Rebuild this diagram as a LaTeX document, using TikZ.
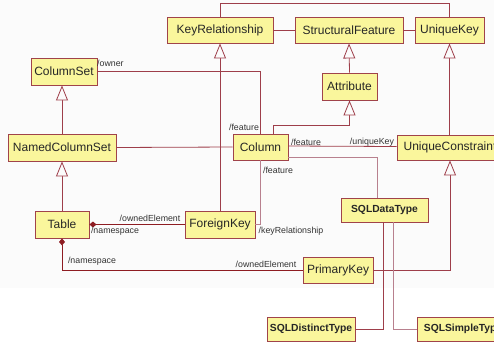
\documentclass[tikz,border=0pt]{standalone}
\usepackage{fontspec}
\setmainfont{Liberation Sans}
\usetikzlibrary{arrows.meta}

\definecolor{boxfill}{HTML}{FAF69C}
\definecolor{boxline}{HTML}{A0434A}
\definecolor{assoc}{HTML}{9E3E4A}
\definecolor{assoclight}{HTML}{B8808E}
\definecolor{owner}{HTML}{8E1C22}
\definecolor{canvas}{HTML}{FBFBFB}

\tikzset{
  cls/.style={draw=boxline, fill=boxfill, line width=0.9pt, inner sep=0pt,
    font=\fontsize{12}{14}\selectfont, text=black!85},
  sqlcls/.style={cls, font=\fontsize{10.3}{12}\selectfont\bfseries},
  gen/.style={draw=assoc, line width=0.8pt,
    -{Triangle[open, length=15pt, width=12pt, line width=0.8pt, fill=canvas]}},
  link/.style={draw=assoc, line width=0.8pt},
  linklight/.style={draw=assoclight, line width=0.8pt},
  comp/.style={draw=owner, line width=1pt,
    {Diamond[length=7pt, width=6pt, fill=owner]}-},
  role/.style={font=\fontsize{8.8}{10}\selectfont, text=black!80, inner sep=0pt}
}

\begin{document}
\begin{tikzpicture}[x=1pt, y=-1pt]
  \useasboundingbox (0,0) rectangle (494,342);
  \clip (0,0) rectangle (494,342);
  \fill[white] (0,0) rectangle (494,342);
  \fill[canvas] (0,0) rectangle (494,288);

  % classes
  \node[cls, minimum width=106pt, minimum height=26pt] (kr)   at (220,30)    {KeyRelationship};
  \node[cls, minimum width=108pt, minimum height=26pt] (sf)   at (349,30)    {StructuralFeature};
  \node[cls, minimum width=69pt,  minimum height=26pt] (uk)   at (449.5,30)  {UniqueKey};
  \node[cls, minimum width=55pt,  minimum height=27pt] (attr) at (349.5,86.5) {Attribute};
  \node[cls, minimum width=66pt,  minimum height=27pt] (cs)   at (64,71.5)   {ColumnSet};
  \node[cls, minimum width=108pt, minimum height=27pt] (ncs)  at (62,147.5)  {NamedColumnSet};
  \node[cls, minimum width=55pt,  minimum height=26pt] (col)  at (260.5,147) {Column};
  \node[cls, minimum width=106pt, minimum height=25pt] (uc)   at (450,147.5) {UniqueConstraint};
  \node[cls, minimum width=54pt,  minimum height=27pt] (tbl)  at (62,224.5)  {Table};
  \node[cls, minimum width=70pt,  minimum height=27pt] (fk)   at (220,224.5) {ForeignKey};
  \node[cls, minimum width=70pt,  minimum height=26pt] (pk)   at (338,270)   {PrimaryKey};
  \node[sqlcls, minimum width=87pt, minimum height=24pt] (sdt)  at (384.5,210) {SQLDataType};
  \node[sqlcls, minimum width=88pt, minimum height=24pt] (dist) at (311,329)   {SQLDistinctType};
  \node[sqlcls, minimum width=92pt, minimum height=24pt] (simp) at (463,329)   {SQLSimpleType};

  % plain links between the top row
  \draw[link] (kr.east) -- (sf.west);
  \draw[link] (sf.east) -- (uk.west);
  \draw[link] (kr.north) -- ++(0,-13) -| (uk.north);

  % generalizations
  \draw[gen] (attr.north) -- (sf.south);
  \draw[gen] ([xshift=12.5pt]col.north) -- ++(0,-8) -| (attr.south);
  \draw[gen] (uc.north -| uk.south) -- (uk.south);
  \draw[gen] (fk.north) -- (kr.south);
  \draw[gen] (ncs.north) -- (ncs.north |- cs.south);
  \draw[gen] (tbl.north) -- (ncs.south);
  \draw[gen] (pk.east) -| (uc.south);

  % data type hierarchy
  \draw[link] ([xshift=-1.5pt]sdt.south) |- (dist.east);
  \draw[linklight] ([xshift=8.5pt]sdt.south) |- (simp.west);

  % associations
  \draw[link] (ncs.east) -- (col.west);
  \draw[link] (cs.east) -| (col.north);
  \draw[linklight] (col.south) |- (fk.east);
  \draw[link] ([yshift=1pt]col.east) -- ([yshift=1pt]uc.west);
  \draw[linklight] ([yshift=-10pt]col.east) -| ([xshift=-7.5pt]sdt.north);

  % ownership
  \draw[comp] (tbl.east) -- (fk.west);
  \draw[comp] (tbl.south) |- (pk.west);

  % role names
  \node[role, anchor=west] (r1)  at (97,63)   {/owner};
  \node[role] (r2)  at (244,127) {/feature};
  \node[role] (r3)  at (306,142) {/feature};
  \node[role] (r4)  at (372,142) {/uniqueKey};
  \node[role] (r5)  at (278,170) {/feature};
  \node[role] (r6)  at (291,231) {/keyRelationship};
  \node[role] (r7)  at (150,218) {/ownedElement};
  \node[role] (r8)  at (115,231) {/namespace};
  \node[role] (r9)  at (92,261)  {/namespace};
  \node[role] (r10) at (266,264) {/ownedElement};
\end{tikzpicture}
\end{document}
